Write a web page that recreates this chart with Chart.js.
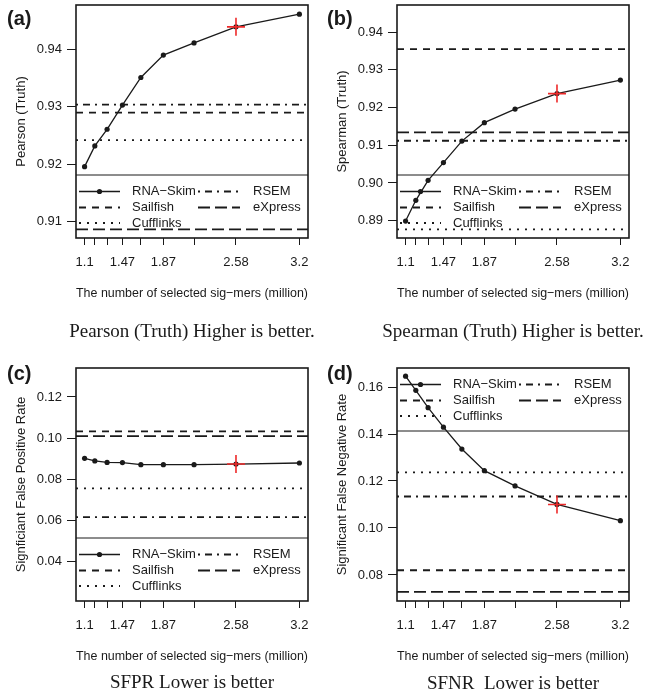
<!DOCTYPE html>
<html>
<head>
<meta charset="utf-8">
<script src="https://cdn.jsdelivr.net/npm/chart.js@4.4.1/dist/chart.umd.min.js"></script>
<style>
  body { margin:0; background:#fff; }
  #wrap { position:relative; width:647px; height:694px; background:#fff; }
  canvas { position:absolute; }
  .tag { position:absolute; font:bold 20px 'Liberation Sans', Arial, sans-serif; color:#1a1a1a; line-height:20px; }
  .sub { position:absolute; width:400px; text-align:center; white-space:pre;
         font:19px 'Liberation Serif', 'Times New Roman', serif; color:#1a1a1a; line-height:22px; }
</style>
</head>
<body>
<div id="wrap">
  <canvas id="pa" width="323" height="310" style="left:0;top:0"></canvas>
  <canvas id="pb" width="323" height="310" style="left:321px;top:0"></canvas>
  <canvas id="pc" width="323" height="310" style="left:0;top:363px"></canvas>
  <canvas id="pd" width="323" height="310" style="left:321px;top:363px"></canvas>
  <div class="tag" style="left:7px;top:8px">(a)</div>
  <div class="tag" style="left:327px;top:8px">(b)</div>
  <div class="tag" style="left:7px;top:363px">(c)</div>
  <div class="tag" style="left:327px;top:363px">(d)</div>
  <div class="sub" style="left:-8px;top:320px">Pearson (Truth) Higher is better.</div>
  <div class="sub" style="left:313px;top:320px">Spearman (Truth) Higher is better.</div>
  <div class="sub" style="left:-8px;top:671px">SFPR Lower is better</div>
  <div class="sub" style="left:313px;top:672px">SFNR  Lower is better</div>
</div>
<script>
// x: number of selected sig-mers (million)
const xValues = [1.1, 1.2, 1.32, 1.47, 1.65, 1.87, 2.17, 2.58, 3.2];
const xTickLabels = ['1.1', '1.47', '1.87', '2.58', '3.2'];
const xRange = [1.016, 3.284];
const selectedX = 2.58;

// other methods, in this order
const methods = ['RSEM', 'Sailfish', 'eXpress', 'Cufflinks'];

// (a) Pearson
const pearsonSkim = [0.9196, 0.9232, 0.9261, 0.9303, 0.9351, 0.9390, 0.9411, 0.9439, 0.9461];
const pearsonOthers = [0.9304, 0.9290, 0.9087, 0.9242];
const pearsonYTicks = [0.91, 0.92, 0.93, 0.94];
const pearsonYRange = [0.9072, 0.9477];

// (b) Spearman
const spearmanSkim = [0.8899, 0.8954, 0.9007, 0.9054, 0.9111, 0.9160, 0.9196, 0.9237, 0.9273];
const spearmanOthers = [0.9112, 0.9355, 0.9134, 0.8877];
const spearmanYTicks = [0.89, 0.90, 0.91, 0.92, 0.93, 0.94];
const spearmanYRange = [0.8854, 0.9472];

// (c) SFPR
const sfprSkim = [0.0902, 0.0889, 0.0882, 0.0881, 0.0871, 0.0871, 0.0871, 0.0874, 0.0879];
const sfprOthers = [0.0616, 0.1033, 0.1010, 0.0756];
const sfprYTicks = [0.04, 0.06, 0.08, 0.10, 0.12];
const sfprYRange = [0.0208, 0.1341];

// (d) SFNR
const sfnrSkim = [0.1646, 0.1586, 0.1512, 0.1429, 0.1336, 0.1244, 0.1179, 0.1100, 0.1031];
const sfnrOthers = [0.1134, 0.0820, 0.0728, 0.1237];
const sfnrYTicks = [0.08, 0.10, 0.12, 0.14, 0.16];
const sfnrYRange = [0.0689, 0.1681];

const INK = '#1a1a1a';
const dashes = { RSEM:[2,5,7,5], Sailfish:[7,6], eXpress:[12,5], Cufflinks:[2,6] };

Chart.defaults.font.family = "'Liberation Sans', Arial, sans-serif";
Chart.defaults.font.size = 13;
Chart.defaults.color = INK;

// R-style box + legend drawn on top of the data
const decoPlugin = {
  id: 'deco',
  afterDatasetsDraw(chart, args, opts) {
    const { ctx, chartArea: a } = chart;
    const h = 63;
    const top = opts.legend === 'top' ? a.top : a.bottom - h;
    ctx.save();
    ctx.strokeStyle = INK;
    ctx.lineWidth = 1;
    ctx.beginPath();
    const yLine = opts.legend === 'top' ? a.top + h : a.bottom - h;
    ctx.moveTo(a.left, yLine); ctx.lineTo(a.right, yLine);
    ctx.stroke();

    const rows = [16.5, 32.5, 48];
    const items = [
      { name:'RNA\u2212Skim', col:0, row:0 },
      { name:'Sailfish', col:0, row:1 },
      { name:'Cufflinks', col:0, row:2 },
      { name:'RSEM', col:1, row:0 },
      { name:'eXpress', col:1, row:1 }
    ];
    ctx.font = "13px 'Liberation Sans', Arial, sans-serif";
    ctx.fillStyle = INK;
    ctx.textBaseline = 'middle';
    items.forEach(it => {
      const y = top + rows[it.row];
      const x0 = a.left + (it.col ? 122 : 3);
      const x1 = a.left + (it.col ? 164 : 44);
      const tx = a.left + (it.col ? 177 : 56);
      ctx.beginPath();
      if (dashes[it.name]) { ctx.setLineDash(dashes[it.name]); ctx.lineWidth = 1.8; }
      else { ctx.setLineDash([]); ctx.lineWidth = 1.3; }
      ctx.moveTo(x0, y); ctx.lineTo(x1, y); ctx.stroke();
      ctx.setLineDash([]);
      if (!dashes[it.name]) {
        ctx.beginPath(); ctx.arc((x0 + x1) / 2, y, 2.6, 0, Math.PI * 2); ctx.fill();
      }
      ctx.fillText(it.name, tx, y);
    });

    ctx.lineWidth = 1.6;
    ctx.strokeRect(a.left, a.top, a.right - a.left, a.bottom - a.top);
    ctx.restore();
  }
};

function makePanel(id, yTitle, skim, others, yTicks, yRange, legendPos) {
  const datasets = [];
  const iSel = xValues.indexOf(selectedX);
  datasets.push({
    data: [{ x: selectedX, y: skim[iSel] }],
    showLine: false, pointStyle: 'cross', pointRadius: 9,
    borderColor: '#ee2a2a', borderWidth: 1.6
  });
  datasets.push({
    data: xValues.map((x, i) => ({ x, y: skim[i] })),
    borderColor: INK, borderWidth: 1.3,
    pointRadius: 2.6, pointBackgroundColor: INK, pointBorderWidth: 0
  });
  methods.forEach((m, i) => {
    datasets.push({
      data: [{ x: xRange[0], y: others[i] }, { x: xRange[1], y: others[i] }],
      borderColor: INK, borderWidth: 1.8, borderDash: dashes[m], pointRadius: 0
    });
  });

  new Chart(document.getElementById(id), {
    type: 'line',
    data: { datasets },
    options: {
      responsive: false, animation: false, devicePixelRatio: 1,
      layout: { autoPadding: false, padding: { left: 0, top: 5, right: 15, bottom: 0 } },
      plugins: { legend: { display: false }, tooltip: { enabled: false }, deco: { legend: legendPos } },
      scales: {
        x: {
          type: 'linear', min: xRange[0], max: xRange[1],
          afterBuildTicks: s => { s.ticks = xValues.map(v => ({ value: v })); },
          afterFit: s => { s.height = 72; s.paddingLeft = 0; s.paddingRight = 0; },
          ticks: {
            autoSkip: false, maxRotation: 0, padding: 10, color: INK,
            callback: v => xTickLabels.includes(String(v)) ? String(v) : ''
          },
          grid: { drawOnChartArea: false, drawTicks: true, tickLength: 7, color: INK, lineWidth: 1 },
          border: { display: false },
          title: { display: true, text: 'The number of selected sig\u2212mers (million)', color: INK,
                   padding: { top: 0, bottom: 9 } }
        },
        y: {
          type: 'linear', min: yRange[0], max: yRange[1],
          afterBuildTicks: s => { s.ticks = yTicks.map(v => ({ value: v })); },
          afterFit: s => { s.width = 76; s.paddingTop = 0; s.paddingBottom = 0; },
          ticks: { autoSkip: false, padding: 5, color: INK, callback: v => v.toFixed(2) },
          grid: { drawOnChartArea: false, drawTicks: true, tickLength: 9, color: INK, lineWidth: 1 },
          border: { display: false },
          title: { display: true, text: yTitle, color: INK, padding: { top: 14, bottom: 0 } }
        }
      }
    },
    plugins: [decoPlugin]
  });
}

makePanel('pa', 'Pearson (Truth)', pearsonSkim, pearsonOthers, pearsonYTicks, pearsonYRange, 'bottom');
makePanel('pb', 'Spearman (Truth)', spearmanSkim, spearmanOthers, spearmanYTicks, spearmanYRange, 'bottom');
makePanel('pc', 'Signficiant False Positive Rate', sfprSkim, sfprOthers, sfprYTicks, sfprYRange, 'bottom');
makePanel('pd', 'Significant False Negative Rate', sfnrSkim, sfnrOthers, sfnrYTicks, sfnrYRange, 'top');
</script>
</body>
</html>
